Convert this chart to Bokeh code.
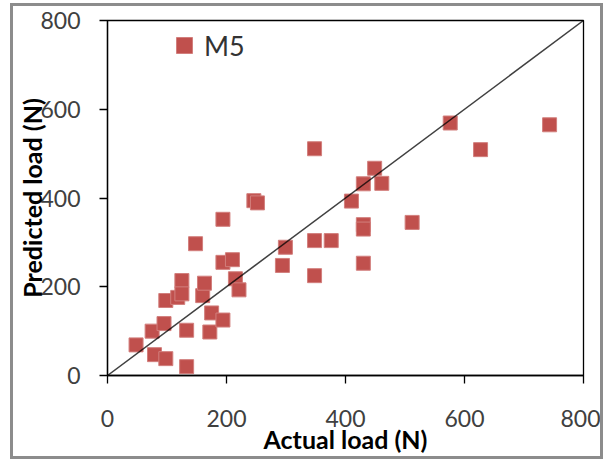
from bokeh.plotting import figure
from bokeh.models import ColumnDataSource, Legend, LegendItem, FixedTicker, Range1d
from bokeh.embed import file_html
from bokeh.resources import INLINE

series_name = "M5"
actual = [48, 79, 98, 133, 75, 95, 133, 172, 175, 194, 98, 118, 125, 125, 160, 163,
          215, 221, 148, 194, 246, 252, 194, 210, 299, 294, 348, 376, 348, 348, 410,
          430, 461, 449, 430, 430, 430, 512, 576, 627, 743]
predicted = [69, 47, 38, 20, 100, 117, 102, 98, 141, 125, 169, 176, 214, 184, 180, 208,
             218, 193, 297, 352, 394, 389, 255, 261, 289, 248, 304, 304, 225, 511, 393,
             432, 433, 467, 340, 330, 253, 345, 569, 509, 565]
ideal_x = [0, 800]
ideal_y = [0, 800]
ticks = [0, 200, 400, 600, 800]

FONT = "Lato"

p = figure(output_backend="svg", toolbar_location=None,
           frame_width=476, frame_height=355,
           min_border_left=94, min_border_right=17, min_border_top=14, min_border_bottom=79,
           x_range=Range1d(0, 800), y_range=Range1d(0, 800))
p.margin = (6, 0, 0, 13)
p.styles = {"box-shadow": "0 0 0 3px #8c8c8c"}

src = ColumnDataSource(dict(x=actual, y=predicted))
r = p.scatter("x", "y", source=src, marker="square", size=14,
              fill_color="#C0504D", line_color="#D27F7D", line_width=1)
p.line(ideal_x, ideal_y, line_color="black", line_width=1.5, line_alpha=0.75)

p.xgrid.visible = False
p.ygrid.visible = False
p.outline_line_color = "black"
p.outline_line_width = 1.3
p.background_fill_color = "white"
p.border_fill_color = "white"

for ax in (p.xaxis[0], p.yaxis[0]):
    ax.ticker = FixedTicker(ticks=ticks)
    ax.minor_tick_line_color = None
    ax.major_tick_in = 0
    ax.major_tick_out = 8
    ax.axis_line_color = "black"
    ax.axis_line_width = 1.3
    ax.major_tick_line_color = "black"
    ax.major_tick_line_width = 1.3
    ax.major_label_text_font = FONT
    ax.major_label_text_font_size = "23px"
    ax.major_label_text_color = "#404040"
    ax.axis_label_text_font = FONT
    ax.axis_label_text_font_size = "25px"
    ax.axis_label_text_font_style = "bold"
    ax.axis_label_text_color = "black"

p.xaxis.axis_label = "Actual load (N)"
p.yaxis.axis_label = "Predicted load (N)"
p.xaxis.major_label_standoff = 26
p.xaxis.axis_label_standoff = -6
p.yaxis.major_label_standoff = 19
p.yaxis.axis_label_standoff = -10

legend = Legend(items=[LegendItem(label=series_name, renderers=[r])],
                location=(57, 310), orientation="vertical",
                padding=0, margin=0, spacing=0, label_standoff=-4,
                glyph_width=40, glyph_height=40,
                label_text_font=FONT, label_text_font_size="27px",
                label_text_color="#333333",
                border_line_alpha=0, background_fill_alpha=0)
p.add_layout(legend)

open("out.html", "w").write(file_html(p, INLINE))
